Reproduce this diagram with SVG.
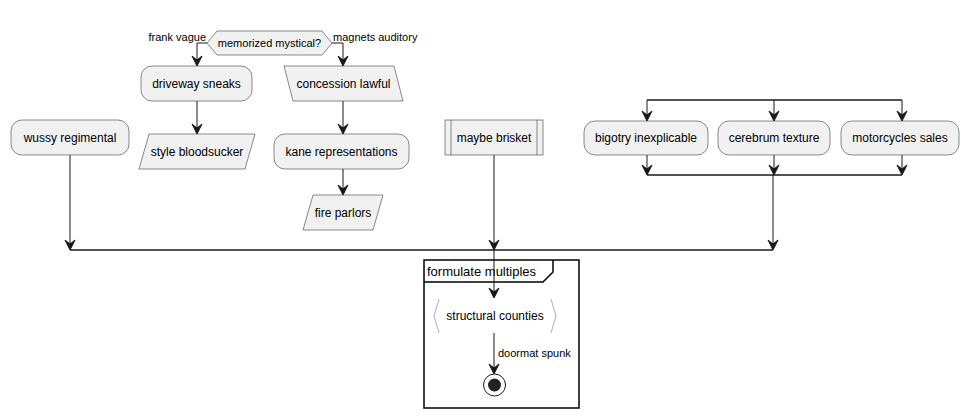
<svg xmlns="http://www.w3.org/2000/svg" width="970" height="419" viewBox="0 0 970 419">
<style>
.box{fill:#F1F1F1;stroke:#181818;stroke-width:0.5}
.t{font-family:"Liberation Sans",Arial,sans-serif;font-size:12px;fill:#000}
.s{font-family:"Liberation Sans",Arial,sans-serif;font-size:11px;fill:#000}
.ln{stroke:#181818;stroke-width:1;fill:none}
.bar{stroke:#181818;stroke-width:1.5;fill:none}
.ah{fill:#181818;stroke:#181818;stroke-width:1}
</style>
<defs>
<path id="arr" d="M0,0 L-5,-10 L0,-6 L5,-10 Z"/>
</defs>
<rect width="970" height="419" fill="#FFFFFF"/>
<g id="connectors">
<polyline class="ln" points="207,43 197,43 197,64"/>
<use href="#arr" class="ah" x="197" y="66"/>
<polyline class="ln" points="332,43 343,43 343,64"/>
<use href="#arr" class="ah" x="343" y="66"/>
<line class="ln" x1="197" y1="101" x2="197" y2="132"/>
<use href="#arr" class="ah" x="197" y="134"/>
<line class="ln" x1="343" y1="101" x2="343" y2="132"/>
<use href="#arr" class="ah" x="343" y="134"/>
<line class="ln" x1="343" y1="169" x2="343" y2="193"/>
<use href="#arr" class="ah" x="343" y="195"/>
<line class="bar" x1="647" y1="100" x2="902" y2="100"/>
<line class="ln" x1="647" y1="100" x2="647" y2="119"/>
<use href="#arr" class="ah" x="647" y="121"/>
<line class="ln" x1="774" y1="100" x2="774" y2="119"/>
<use href="#arr" class="ah" x="774" y="121"/>
<line class="ln" x1="902" y1="100" x2="902" y2="119"/>
<use href="#arr" class="ah" x="902" y="121"/>
<line class="ln" x1="647" y1="155" x2="647" y2="173"/>
<use href="#arr" class="ah" x="647" y="175"/>
<line class="ln" x1="774" y1="155" x2="774" y2="173"/>
<use href="#arr" class="ah" x="774" y="175"/>
<line class="ln" x1="902" y1="155" x2="902" y2="173"/>
<use href="#arr" class="ah" x="902" y="175"/>
<line class="bar" x1="647" y1="175" x2="902" y2="175"/>
<line class="ln" x1="773" y1="175" x2="773" y2="248"/>
<use href="#arr" class="ah" x="773" y="250"/>
<line class="ln" x1="70" y1="155" x2="70" y2="248"/>
<use href="#arr" class="ah" x="70" y="250"/>
<line class="ln" x1="494" y1="155" x2="494" y2="248"/>
<use href="#arr" class="ah" x="494" y="250"/>
<line class="bar" x1="70" y1="250" x2="773" y2="250"/>
</g>
<g id="frame">
<rect x="424" y="260" width="155" height="148" fill="none" stroke="#000" stroke-width="1.5"/>
<polyline points="424,282 543,282 553,272 553,260" fill="none" stroke="#000" stroke-width="1.5"/>
<text class="t" style="font-size:13px" x="427" y="276">formulate multiples</text>
</g>
<g id="connectors-inner">
<line class="ln" x1="494" y1="250" x2="494" y2="296"/>
<use href="#arr" class="ah" x="494" y="298"/>
<line class="ln" x1="494" y1="333" x2="494" y2="372"/>
<use href="#arr" class="ah" x="494" y="374"/>
<text class="s" x="498" y="357">doormat spunk</text>
</g>
<g id="decision">
<polygon class="box" points="207,43 217,31 322,31 332,43 322,55 217,55"/>
<text class="s" x="269.5" y="47" text-anchor="middle">memorized mystical?</text>
<text class="s" x="206" y="41" text-anchor="end">frank vague</text>
<text class="s" x="333" y="41">magnets auditory</text>
</g>
<g id="driveway-sneaks">
<rect class="box" x="141" y="66" width="111" height="35" rx="11"/>
<text class="t" x="196.5" y="88" text-anchor="middle">driveway sneaks</text>
</g>
<g id="concession-lawful">
<polygon class="box" points="284,66 394,66 403,101 293,101"/>
<text class="t" x="343.5" y="88" text-anchor="middle">concession lawful</text>
</g>
<g id="wussy-regimental">
<rect class="box" x="11" y="120" width="118" height="35" rx="11"/>
<text class="t" x="70" y="142" text-anchor="middle">wussy regimental</text>
</g>
<g id="style-bloodsucker">
<polygon class="box" points="149,134 255,134 245,169 139,169"/>
<text class="t" x="197" y="156" text-anchor="middle">style bloodsucker</text>
</g>
<g id="kane-representations">
<rect class="box" x="274" y="134" width="135" height="35" rx="11"/>
<text class="t" x="341.5" y="156" text-anchor="middle">kane representations</text>
</g>
<g id="fire-parlors">
<polygon class="box" points="313,195 383,195 373,230 303,230"/>
<text class="t" x="343" y="217" text-anchor="middle">fire parlors</text>
</g>
<g id="maybe-brisket">
<rect class="box" x="445" y="120" width="98" height="35"/>
<line class="box" x1="451" y1="120" x2="451" y2="155"/>
<line class="box" x1="537" y1="120" x2="537" y2="155"/>
<text class="t" x="494" y="142" text-anchor="middle">maybe brisket</text>
</g>
<g id="bigotry-inexplicable">
<rect class="box" x="584" y="121" width="124" height="34" rx="11"/>
<text class="t" x="646" y="142" text-anchor="middle">bigotry inexplicable</text>
</g>
<g id="cerebrum-texture">
<rect class="box" x="718" y="121" width="112" height="34" rx="11"/>
<text class="t" x="774" y="142" text-anchor="middle">cerebrum texture</text>
</g>
<g id="motorcycles-sales">
<rect class="box" x="841" y="121" width="118" height="34" rx="11"/>
<text class="t" x="900" y="142" text-anchor="middle">motorcycles sales</text>
</g>
<g id="structural-counties">
<polyline points="439,299 434,316 439,333" fill="none" stroke="#B0B0B0" stroke-width="1"/>
<polyline points="551,299 556,316 551,333" fill="none" stroke="#B0B0B0" stroke-width="1"/>
<text class="t" x="495" y="320" text-anchor="middle">structural counties</text>
</g>
<g id="end">
<circle cx="494.5" cy="385" r="11" fill="#FFFFFF" stroke="#181818" stroke-width="1"/>
<circle cx="494.5" cy="385" r="6.5" fill="#222222"/>
</g>
</svg>
